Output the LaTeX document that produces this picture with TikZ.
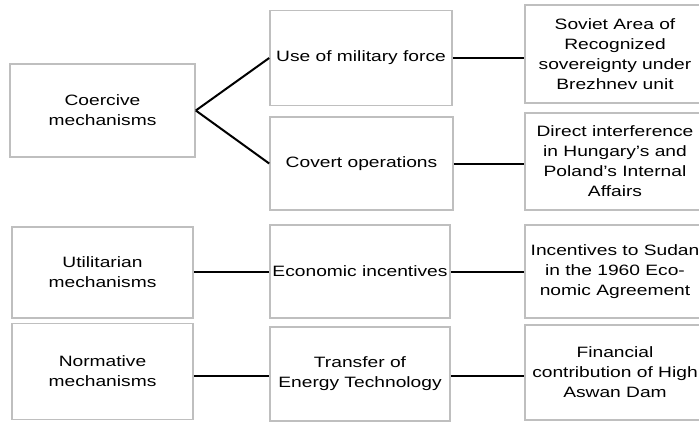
\documentclass[tikz,border=0pt]{standalone}
\usepackage{fontspec}
\setmainfont[FakeStretch=1.28]{Liberation Sans}
\begin{document}
\begin{tikzpicture}[x=1pt,y=-1pt]
\tikzset{
  box/.style={draw=gray!50, line width=1.6pt, fill=white, align=center, inner sep=0pt,
    font=\fontsize{15}{20}\selectfont},
  conn/.style={line width=2pt, black}
}
\useasboundingbox (0,0) rectangle (699,421);
% left column
\node[box, minimum width=185pt, minimum height=93pt] (L1) at (102.5,110.5) {Coercive\\mechanisms};
\node[box, minimum width=181pt, minimum height=91pt] (L3) at (102.5,272.5) {Utilitarian\\mechanisms};
\node[box, minimum width=181pt, minimum height=96pt] (L4) at (102.5,371.5) {Normative\\mechanisms};
% middle column
\node[box, minimum width=182pt, minimum height=95pt] (M1) at (361,58) {Use of military force};
\node[box, minimum width=183pt, minimum height=93pt] (M2) at (361.5,163.5) {Covert operations};
\node[box, minimum width=180pt, minimum height=93pt] (M3) at (360,271.5) {Economic incentives};
\node[box, minimum width=180pt, minimum height=94pt] (M4) at (360,374) {Transfer of\\Energy Technology};
% right column
\node[box, minimum width=180pt, minimum height=98pt] (R1) at (615,54) {Soviet Area of\\Recognized\\sovereignty under\\Brezhnev unit};
\node[box, minimum width=180pt, minimum height=97pt] (R2) at (615,161.5) {Direct interference\\in Hungary's and\\Poland's Internal\\Affairs};
\node[box, minimum width=180pt, minimum height=93pt] (R3) at (615,271.5) {Incentives to Sudan\\in the 1960 Eco-\\nomic Agreement};
\node[box, minimum width=180pt, minimum height=95pt] (R4) at (615,372.5) {Financial\\contribution of High\\Aswan Dam};
% connectors
\draw[conn] (L1.east) -- (M1.west);
\draw[conn] (L1.east) -- (M2.west);
\draw[conn] (M1.east) -- (R1.west |- M1.east);
\draw[conn] (M2.east) -- (R2.west |- M2.east);
\draw[conn] (L3.east |- M3.west) -- (M3.west);
\draw[conn] (M3.east) -- (R3.west |- M3.east);
\draw[conn] (L4.east |- 0,376) -- (M4.west |- 0,376);
\draw[conn] (M4.east |- 0,376) -- (R4.west |- 0,376);
\end{tikzpicture}
\end{document}
